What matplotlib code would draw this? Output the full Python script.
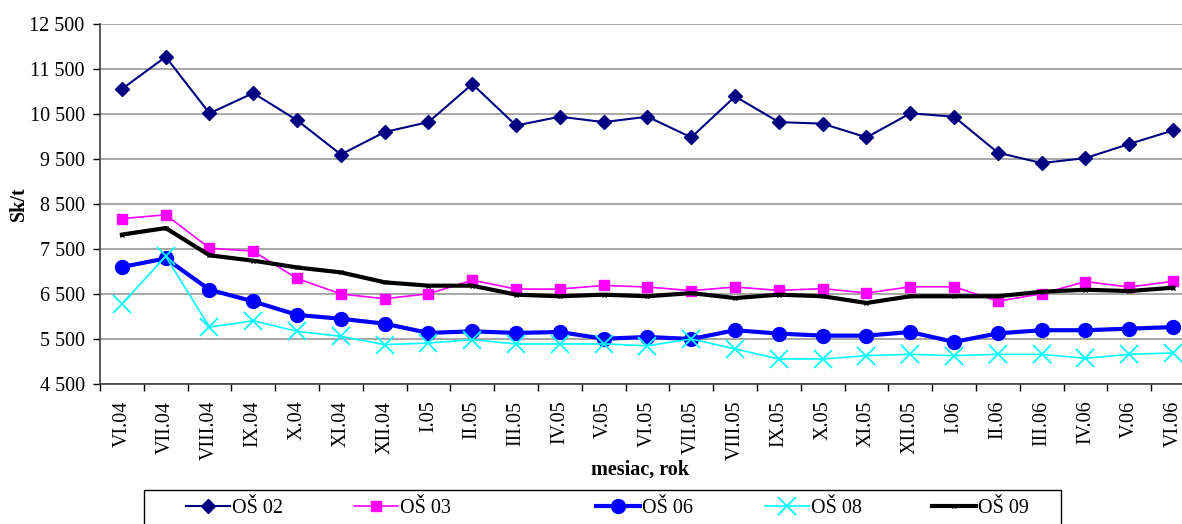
import matplotlib
matplotlib.use("Agg")
import matplotlib.pyplot as plt
from matplotlib.patches import Rectangle
import numpy as np

plt.rcParams['font.family'] = ['Liberation Serif', 'DejaVu Serif']

# Data
months = ['VI.04', 'VII.04', 'VIII.04', 'IX.04', 'X.04', 'XI.04', 'XII.04',
          'I.05', 'II.05', 'III.05', 'IV.05', 'V.05', 'VI.05', 'VII.05',
          'VIII.05', 'IX.05', 'X.05', 'XI.05', 'XII.05', 'I.06', 'II.06',
          'III.06', 'IV.06', 'V.06', 'VI.06']
os02 = [11055, 11770, 10515, 10965, 10360, 9600, 10100, 10320, 11165, 10245,
        10440, 10320, 10440, 9980, 10890, 10320, 10285, 9980, 10515, 10440,
        9640, 9410, 9520, 9835, 10135]
os03 = [8175, 8260, 7520, 7450, 6845, 6500, 6395, 6505, 6805, 6610,
        6610, 6690, 6655, 6575, 6655, 6580, 6620, 6520, 6660, 6660,
        6340, 6505, 6775, 6655, 6780]
os06 = [7100, 7290, 6595, 6335, 6035, 5950, 5840, 5635, 5670, 5635,
        5655, 5505, 5545, 5500, 5695, 5620, 5575, 5575, 5655, 5435,
        5625, 5695, 5695, 5730, 5765]
os08 = [6280, 7335, 5765, 5905, 5670, 5560, 5375, 5410, 5485, 5390,
        5390, 5390, 5350, 5500, 5280, 5055, 5055, 5130, 5160, 5130,
        5160, 5160, 5070, 5160, 5190]
os09 = [7820, 7965, 7360, 7240, 7090, 6980, 6760, 6685, 6685, 6485,
        6450, 6485, 6450, 6520, 6410, 6485, 6450, 6300, 6450, 6450,
        6450, 6550, 6595, 6565, 6640]

W, H = 1182, 524
x = np.arange(len(months))

fig = plt.figure(figsize=(W / 100, H / 100), dpi=100)
ax = fig.add_axes([100/W, 1 - 384/H, 1095/W, 360/H])

lines = []
lines += ax.plot(x, os02, color='#000080', lw=1.5, marker='D', ms=7, label='OŠ 02')
lines += ax.plot(x, os03, color='#FF00FF', lw=1.2, marker='s', ms=7, label='OŠ 03')
lines += ax.plot(x, os06, color='#0000FF', lw=3, marker='o', ms=10, label='OŠ 06')
lines += ax.plot(x, os08, color='#00FFFF', lw=1.2, marker='x', ms=13, mew=1.3, label='OŠ 08')
lines += ax.plot(x, os09, color='black', lw=3, marker='x', ms=3, mew=1, label='OŠ 09')

ax.set_xlim(-0.5, len(months) - 0.5)
ax.set_ylim(4500, 12500)
yt = np.arange(4500, 12501, 1000)
ax.set_yticks(yt)
ax.set_yticklabels(['{:,}'.format(v).replace(',', ' ') for v in yt], fontsize=14.5)
ax.set_xticks(x)
ax.set_xticklabels(months, rotation=90, fontsize=14.5)
ax.set_xticks(np.arange(-0.5, len(months)), minor=True)
ax.tick_params(axis='x', which='major', length=0, pad=12)
ax.tick_params(axis='x', which='minor', length=5, width=1)
ax.tick_params(axis='y', length=5, width=1, pad=6)
ax.yaxis.grid(True, color='#a0a0a0', lw=1.3)
ax.set_axisbelow(True)
for s in ['top', 'right']:
    ax.spines[s].set_visible(False)
for s in ['left', 'bottom']:
    ax.spines[s].set_color('#404040')
    ax.spines[s].set_linewidth(1.2)

fig.text(19/W, 1 - 204/H, 'Sk/t', rotation=90, fontsize=14.5,
         fontweight='bold', ha='center', va='center')
fig.text(640/W, 1 - 470/H, 'mesiac, rok', fontsize=14.5,
         fontweight='bold', ha='center', va='center')

# legend box (cut off by the bottom edge, as in the original)
fig.add_artist(Rectangle((144/W, -0.05), (1061 - 144)/W, 0.05 + 1 - 490/H,
                         transform=fig.transFigure, fill=False,
                         edgecolor='black', lw=1.0))
entry_x = [186, 354, 596, 765, 932]
for ln, ex in zip(lines, entry_x):
    fig.legend([ln], [ln.get_label()], loc='center left',
               bbox_to_anchor=(ex/W, 1 - 508/H), frameon=False,
               fontsize=14.5, handlelength=2.2, handletextpad=0.1,
               borderpad=0, borderaxespad=0)

fig.savefig('out.png', dpi=100)
